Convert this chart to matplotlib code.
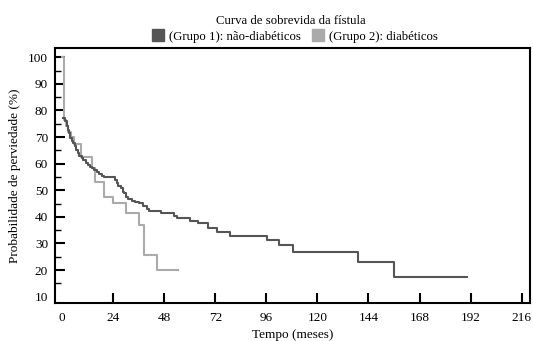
import numpy as np
import matplotlib
matplotlib.use('Agg')
import matplotlib.pyplot as plt
from matplotlib.lines import Line2D

plt.rcParams['font.family'] = ['Liberation Serif', 'DejaVu Serif']

# Grupo 1: nao-diabeticos (tempo em meses, probabilidade %)
t_g1 = [0.5, 1.4, 2.2, 2.7, 3.3, 3.8, 4.6, 5.3, 6.1, 6.4, 7.4, 8.0, 9.3, 10.0,
        11.2, 12.1, 13.2, 14.3, 15.2, 16.3, 17.4, 18.7, 19.9, 25.0, 25.7, 26.5,
        27.6, 28.5, 29.2, 30.1, 31.2, 32.8, 34.4, 36.4, 38.0, 39.9, 41.1, 46.4,
        52.4, 54.0, 60.2, 64.1, 68.8, 72.8, 79.0, 96.3, 101.8, 108.5, 139.0,
        156.2, 190.4]
s_g1 = [77.0, 75.9, 74.0, 72.8, 71.5, 69.6, 68.7, 67.8, 66.5, 65.2, 64.0, 62.7,
        62.1, 61.2, 60.4, 59.6, 58.9, 58.3, 57.7, 57.0, 56.2, 55.4, 54.9, 53.9,
        52.6, 51.6, 50.7, 49.5, 48.9, 47.6, 46.6, 46.1, 45.7, 45.1, 44.1, 42.8,
        42.3, 41.3, 40.3, 39.6, 38.5, 37.5, 35.9, 34.4, 32.8, 31.2, 29.3, 26.8,
        23.0, 17.3, 17.3]

# Grupo 2: diabeticos
t_g2 = [0.0, 1.1, 2.0, 3.0, 4.0, 5.5, 8.9, 14.0, 15.5, 19.6, 23.8, 30.1, 36.2,
        38.7, 44.6, 54.3]
s_g2 = [100.0, 76.5, 74.0, 72.0, 70.0, 67.5, 62.5, 58.3, 53.0, 47.6, 45.1, 41.5,
        37.0, 25.8, 20.0, 20.0]

xticks = [0, 24, 48, 72, 96, 120, 144, 168, 192, 216]
yticks = [10, 20, 30, 40, 50, 60, 70, 80, 90, 100]

c1 = '#555555'
c2 = '#aaaaaa'

fig = plt.figure(figsize=(5.33, 3.41), dpi=100)
ax = fig.add_axes([0.1032, 0.1123, 0.8912, 0.7461])

ax.plot(t_g2, s_g2, drawstyle='steps-post', color=c2, lw=1.5)
ax.plot(t_g1, s_g1, drawstyle='steps-post', color=c1, lw=1.5)

ax.set_xlim(-3.3, 219.9)
ax.set_ylim(7.7, 103.4)
ax.set_xticks(xticks)
ax.set_yticks(yticks)
ax.set_yticks(np.arange(15, 100, 10), minor=True)
ax.tick_params(axis='both', which='major', direction='in', length=7, width=1.5,
               labelsize=9.5, pad=5)
ax.tick_params(axis='y', which='minor', direction='in', length=4, width=1.0)
ax.tick_params(axis='x', which='major', pad=7)
ax.xaxis.get_major_ticks()[0].tick1line.set_visible(False)
ax.yaxis.get_major_ticks()[0].tick1line.set_visible(False)
for sp in ax.spines.values():
    sp.set_linewidth(1.5)

ax.set_xlabel('Tempo (meses)', fontsize=9.5, labelpad=3)
ax.set_ylabel('Probabilidade de perviedade (%)', fontsize=9.5, labelpad=5)

fig.text(0.545, 0.937, 'Curva de sobrevida da fístula', ha='center', va='center',
         fontsize=9.2)
handles = [Line2D([], [], ls='none', marker='s', markersize=9, color=c1),
           Line2D([], [], ls='none', marker='s', markersize=9, color=c2)]
fig.legend(handles, ['(Grupo 1): não-diabéticos', '(Grupo 2): diabéticos'],
           loc='center', bbox_to_anchor=(0.553, 0.892), ncol=2, frameon=False,
           fontsize=9.2, handletextpad=0.35, columnspacing=0.9, handlelength=1.0,
           borderaxespad=0)

fig.savefig('out.png', dpi=100)
